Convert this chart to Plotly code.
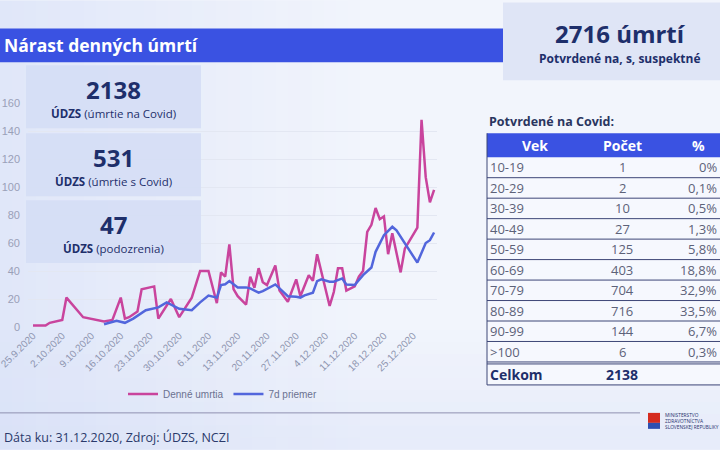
import plotly.graph_objects as go

# ---------------- data ----------------
daily_dates = ["2020-09-25", "2020-09-28", "2020-09-29", "2020-10-02", "2020-10-03", "2020-10-07",
               "2020-10-12", "2020-10-14", "2020-10-16", "2020-10-17", "2020-10-18", "2020-10-20",
               "2020-10-21", "2020-10-24", "2020-10-25", "2020-10-28", "2020-10-30", "2020-11-02",
               "2020-11-04", "2020-11-06", "2020-11-08", "2020-11-09", "2020-11-10", "2020-11-11",
               "2020-11-12", "2020-11-13", "2020-11-15", "2020-11-16", "2020-11-17", "2020-11-18",
               "2020-11-19", "2020-11-20", "2020-11-22", "2020-11-23", "2020-11-25", "2020-11-27",
               "2020-11-28", "2020-11-30", "2020-12-01", "2020-12-02", "2020-12-05", "2020-12-06",
               "2020-12-07", "2020-12-08", "2020-12-09", "2020-12-11", "2020-12-12", "2020-12-13",
               "2020-12-14", "2020-12-15", "2020-12-16", "2020-12-17", "2020-12-18", "2020-12-19",
               "2020-12-20", "2020-12-22", "2020-12-23", "2020-12-26", "2020-12-27", "2020-12-28",
               "2020-12-29", "2020-12-30"]
daily_values = [1, 1, 3, 5, 21, 7,
                4, 5, 21, 6, 7, 11,
                27, 29, 6, 20, 7, 21,
                40, 40, 17, 39, 36, 59,
                27, 22, 16, 36, 28, 42,
                32, 30, 44, 26, 18, 34,
                22, 37, 33, 52, 15, 25,
                42, 42, 26, 29, 36, 40,
                68, 73, 85, 77, 79, 52,
                67, 39, 56, 71, 148, 107,
                89, 98]

avg_dates = ["2020-10-12", "2020-10-15", "2020-10-17", "2020-10-19", "2020-10-22", "2020-10-25",
             "2020-10-27", "2020-10-30", "2020-11-02", "2020-11-04", "2020-11-06", "2020-11-08",
             "2020-11-09", "2020-11-10", "2020-11-11", "2020-11-13", "2020-11-15", "2020-11-16",
             "2020-11-18", "2020-11-19", "2020-11-22", "2020-11-23", "2020-11-25", "2020-11-27",
             "2020-11-28", "2020-11-29", "2020-12-01", "2020-12-02", "2020-12-03", "2020-12-05",
             "2020-12-06", "2020-12-08", "2020-12-09", "2020-12-11", "2020-12-12", "2020-12-13",
             "2020-12-15", "2020-12-16", "2020-12-18", "2020-12-20", "2020-12-21", "2020-12-23",
             "2020-12-26", "2020-12-28", "2020-12-29", "2020-12-30"]
avg_values = [2, 4.5, 3, 6, 12, 14,
              17.5, 13, 12, 17.6, 22.4, 21,
              30, 30.5, 32.8, 28.3, 28.3, 27.6,
              24.5, 25.6, 30.4, 27.6, 22, 21.6,
              21, 22.6, 24.5, 32.8, 34, 32.3,
              32.3, 34.7, 30.4, 30, 33.4, 37,
              42.5, 53.7, 65.6, 71.6, 69, 60,
              46, 60, 62, 67.5]

tick_dates = ["2020-09-25", "2020-10-02", "2020-10-09", "2020-10-16", "2020-10-23", "2020-10-30",
              "2020-11-06", "2020-11-13", "2020-11-20", "2020-11-27", "2020-12-04", "2020-12-11",
              "2020-12-18", "2020-12-25"]
tick_labels = ["25.9.2020", "2.10.2020", "9.10.2020", "16.10.2020", "23.10.2020", "30.10.2020",
               "6.11.2020", "13.11.2020", "20.11.2020", "27.11.2020", "4.12.2020", "11.12.2020",
               "18.12.2020", "25.12.2020"]

kpi_values = ["2138", "531", "47"]
kpi_labels = ["(úmrtie na Covid)", "(úmrtie s Covid)", "(podozrenia)"]

age_groups = ["10-19", "20-29", "30-39", "40-49", "50-59", "60-69", "70-79", "80-89", "90-99", ">100"]
age_counts = [1, 2, 10, 27, 125, 403, 704, 716, 144, 6]
age_pct = ["0%", "0,1%", "0,5%", "1,3%", "5,8%", "18,8%", "32,9%", "33,5%", "6,7%", "0,3%"]
total_confirmed = 2138
total_all = 2716

# ---------------- geometry helpers (pixel -> paper) ----------------
W, H = 720, 450
L, R, T, B = 28, 437, 102.7, 327.0


def X(px):
    return (px - L) / (R - L)


def Y(py):
    return (B - py) / (B - T)


NAVY = "#1e2f6b"
GREY = "#5d6279"
BLUE_BAR = "#3a52e2"
MAGENTA = "#c9449d"
BLUE_LINE = "#5266dc"
BOXFILL = "rgba(213,222,245,0.93)"
SANS = "Open Sans, Noto Sans, sans-serif"
ARIAL = "Liberation Sans, Arial, sans-serif"

fig = go.Figure()
fig.add_trace(go.Scatter(x=daily_dates, y=daily_values, mode="lines", name="Denné umrtia",
                         line=dict(color=MAGENTA, width=2.5)))
fig.add_trace(go.Scatter(x=avg_dates, y=avg_values, mode="lines", name="7d priemer",
                         line=dict(color=BLUE_LINE, width=2.5)))

shapes = []
ann = []


def rect(x0, y0, x1, y1, fill, layer="above", line=None):
    shapes.append(dict(type="rect", xref="paper", yref="paper", x0=X(x0), x1=X(x1), y0=Y(y1), y1=Y(y0),
                       fillcolor=fill, line=dict(width=0) if line is None else line, layer=layer))


def hline(x0, x1, y, color, width=1, layer="above"):
    shapes.append(dict(type="line", xref="paper", yref="paper", x0=X(x0), x1=X(x1), y0=Y(y), y1=Y(y),
                       line=dict(color=color, width=width), layer=layer))


def text(x, y, s, size, color, xanchor="center", family=SANS, bold=False, align="center"):
    if bold:
        s = "<b>" + s + "</b>"
    ann.append(dict(xref="paper", yref="paper", x=X(x), y=Y(y), text=s, showarrow=False,
                    xanchor=xanchor, yanchor="middle", align=align,
                    font=dict(size=size, color=color, family=family)))


# soft background vignette (left side bluer, right side whiter)
n_strips = 30
for i in range(n_strips):
    x0 = i * 12
    a = 0.42 * (1 - i / n_strips)
    rect(x0, 0, x0 + 12, 450, f"rgba(200,212,245,{a:.3f})", layer="below")
for i in range(10):
    y0 = 330 + i * 12
    a = 0.03 * (i + 1)
    rect(0, y0, 720, y0 + 12, f"rgba(205,215,245,{a:.3f})", layer="below")

# title bar
rect(0, 28, 503, 62, BLUE_BAR)
text(2, 45, "Nárast denných úmrtí", 17.5, "white", xanchor="left", bold=True)

# top-right total box
rect(503, 2, 720, 80, "#dfe5f6")
text(620, 33, f"{total_all} úmrtí", 24, NAVY, bold=True)
text(620, 58, "Potvrdené na, s, suspektné", 12, NAVY, bold=True)

# KPI boxes
box_tops = [65, 133, 200]
for i, (v, lab) in enumerate(zip(kpi_values, kpi_labels)):
    t0 = box_tops[i]
    rect(26, t0, 201, t0 + 63, BOXFILL)
    text(113.5, t0 + 24, v, 24, NAVY, bold=True)
    text(113.5, t0 + 48, "<b>ÚDZS</b> " + lab, 11.5, NAVY)

# table
text(487, 121, "Potvrdené na Covid:", 12.5, "#2a3560", xanchor="left", bold=True)
tab_x0, tab_x1 = 487, 722
hdr_top, hdr_bot = 133, 157
row_h = 20.5
rect(tab_x0, hdr_bot, tab_x1, hdr_bot + row_h * 11 + 2, "rgba(246,248,254,0.9)")
rect(tab_x0, hdr_top, tab_x1, hdr_bot, BLUE_BAR)
text(535, 145, "Vek", 14, "white", bold=True)
text(622, 145, "Počet", 14, "white", bold=True)
text(698, 145, "%", 14, "white", bold=True)
LINEC = "#3d4677"
for i, (a, c, p) in enumerate(zip(age_groups, age_counts, age_pct)):
    yc = hdr_bot + row_h * (i + 0.5)
    text(488, yc, a, 13, GREY, xanchor="left")
    text(622, yc, str(c), 13, GREY)
    text(719, yc, p, 13, GREY, xanchor="right")
    hline(tab_x0, tab_x1, hdr_bot + row_h * (i + 1), LINEC, 1)
tot_top = hdr_bot + row_h * 10 + 2
hline(tab_x0, tab_x1, tot_top, LINEC, 1)
text(488, tot_top + 10.5, "Celkom", 14, NAVY, xanchor="left", bold=True)
text(622, tot_top + 10.5, str(total_confirmed), 14, NAVY, bold=True)
hline(tab_x0, tab_x1, tot_top + 21, LINEC, 1)
shapes.append(dict(type="line", xref="paper", yref="paper", x0=X(tab_x0), x1=X(tab_x0),
                   y0=Y(hdr_top), y1=Y(tot_top + 21), line=dict(color=LINEC, width=1)))

# footer
hline(0, 640, 413, "#8f8fb0", 1)
text(2, 438, "Dáta ku: 31.12.2020, Zdroj: ÚDZS, NCZI", 12.5, "#2b3a6b", xanchor="left")

# ministry logo
rect(648, 413, 660, 423, "#d52b1e")
rect(648, 423, 660, 429, "#2f4fb0")
text(663, 421, "MINISTERSTVO<br>ZDRAVOTNÍCTVA<br>SLOVENSKEJ REPUBLIKY", 4.8, NAVY,
     xanchor="left", align="left")

fig.update_layout(
    width=W, height=H,
    margin=dict(l=L, r=W - R, t=T, b=H - B, pad=0, autoexpand=False),
    paper_bgcolor="#f2f5fc",
    plot_bgcolor="rgba(0,0,0,0)",
    shapes=shapes,
    annotations=ann,
    showlegend=True,
    legend=dict(orientation="h", x=X(123), y=Y(394), xanchor="left", yanchor="middle",
                font=dict(size=10, color="#6b7190", family=ARIAL), bgcolor="rgba(0,0,0,0)",
                itemwidth=30),
    xaxis=dict(type="date", range=["2020-09-23 19:12", "2020-12-30 16:48"],
               tickvals=tick_dates, ticktext=tick_labels, tickangle=-45, automargin=False,
               ticklabeloverflow="allow",
               showgrid=False, zeroline=False, showline=False, ticks="",
               tickfont=dict(size=10, color="#8e95b0", family=ARIAL)),
    yaxis=dict(range=[0, 160], dtick=20, showgrid=True, gridcolor="#e3e7f2", gridwidth=1,
               zeroline=False, showline=False, ticks="", ticklabelstandoff=7, automargin=False,
               tickfont=dict(size=11, color="#9aa0b8", family=ARIAL)),
)

fig.write_html("out.html")
